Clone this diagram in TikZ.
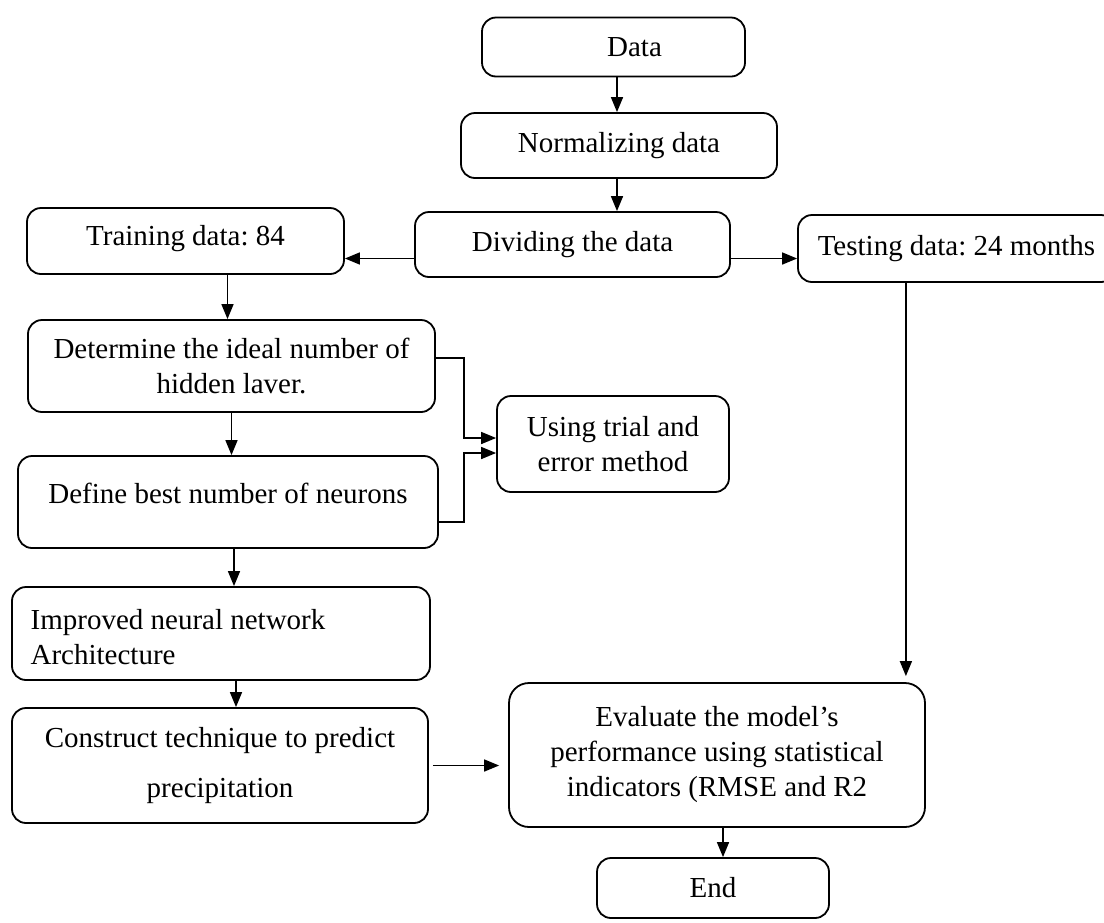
\documentclass[tikz,border=0pt]{standalone}
\usepackage{fontspec}
\setmainfont{Liberation Serif}
\usetikzlibrary{arrows.meta}
\frenchspacing
\begin{document}
\begin{tikzpicture}[x=1pt,y=-1pt,
  font=\fontsize{29}{35}\selectfont,
  box/.style={draw, line width=1.8pt, rounded corners=14pt, align=center, inner sep=0pt},
  arr/.style={-{Triangle[length=15pt,width=12pt]}, line width=1.6pt}]
\useasboundingbox (0,0) rectangle (1104,922);

\node[box, minimum width=263pt, minimum height=59pt, label={[xshift=21pt]center:Data}] (data) at (613.5,47) {};
\node[box, minimum width=316pt, minimum height=65pt] (norm) at (619,145.5) {Normalizing data};
\node[box, minimum width=315pt, minimum height=65pt] (div) at (572.5,244.5) {Dividing the data};
\node[box, minimum width=317pt, minimum height=66pt, label={[yshift=2pt]center:Training data: 84}] (train) at (185.5,241) {};
\node[box, minimum width=317pt, minimum height=67pt] (test) at (956.5,248.5) {Testing data: 24 months};
\node[box, minimum width=407pt, minimum height=92pt] (det) at (231.5,366) {Determine the ideal number of\\hidden laver.};
\node[box, minimum width=420pt, minimum height=92pt, label={[yshift=9pt]center:Define best number of neurons}] (def) at (228,502) {};
\node[box, minimum width=232pt, minimum height=96pt] (using) at (613,444) {Using trial and\\error method};
\node[box, minimum width=418pt, minimum height=93pt, label={[align=left, xshift=-43pt, yshift=-3.5pt]center:Improved neural network\\Architecture}] (imp) at (221,633.5) {};
\node[box, minimum width=416pt, minimum height=115pt] (cons) at (220,765.5) {Construct technique to predict\\[15pt]precipitation};
\node[box, rounded corners=20pt, minimum width=416pt, minimum height=144pt] (eval) at (717,755) {Evaluate the model's\\performance using statistical\\indicators (RMSE and R2};
\node[box, minimum width=232pt, minimum height=60pt] (end) at (713,888) {End};

\draw[arr] ([xshift=-2pt]norm.north |- data.south) -- ([xshift=-2pt]norm.north);
\draw[arr] ([xshift=-2pt]norm.south) -- ([xshift=-2pt]norm.south |- div.north);
\draw[arr] ([yshift=-14pt]div.west) -- ([yshift=-14pt]div.west -| train.east);
\draw[arr] ([yshift=-14pt]div.east) -- ([yshift=-14pt]div.east -| test.west);
\draw[arr] ([xshift=-4pt]det.north |- train.south) -- ([xshift=-4pt]det.north);
\draw[arr] (det.south) -- (det.south |- def.north);
\draw[arr] ([xshift=6pt]def.south) -- ([xshift=6pt]def.south |- imp.north);
\draw[arr] ([xshift=15pt]imp.south) -- ([xshift=15pt]imp.south |- cons.north);
\draw[arr, shorten >=9pt] ([xshift=4pt]cons.east) -- (eval.west |- cons.east);
\coordinate (tv) at ([xshift=-20pt]eval.north east);
\draw[arr, shorten >=6pt] (tv |- test.south) -- (tv);
\draw[arr] ([xshift=6pt]eval.south) -- ([xshift=6pt]eval.south |- end.north);
\draw[arr] ([yshift=8pt]det.east) -- ++(28pt,0) |- ([yshift=6pt]using.west);
\draw[arr] ([yshift=-20pt]def.east) -- ++(25pt,0) |- ([yshift=-9pt]using.west);
\end{tikzpicture}
\end{document}
